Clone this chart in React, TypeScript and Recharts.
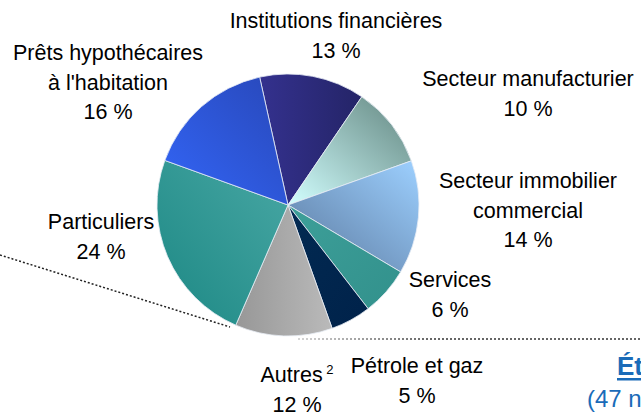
import { PieChart, Pie, Cell } from 'recharts'

// répartition du portefeuille de prêts (%), sens horaire depuis le haut
const sectors = [
  'Institutions financières',
  'Secteur manufacturier',
  'Secteur immobilier commercial',
  'Services',
  'Pétrole et gaz',
  'Autres',
  'Particuliers',
  "Prêts hypothécaires à l'habitation",
]
const shares = [13, 10, 14, 6, 5, 12, 24, 16]
const labelLines = [
  ['Institutions financières'],
  ['Secteur manufacturier'],
  ['Secteur immobilier', 'commercial'],
  ['Services'],
  ['Pétrole et gaz'],
  ['Autres'],
  ['Particuliers'],
  ['Prêts hypothécaires', "à l'habitation"],
]
const notes = ['', '', '', '', '', '2', '', '']

const data = sectors.map((name, i) => ({ name, value: shares[i] }))

// dégradés des tranches: [x1, y1, x2, y2, couleur début, couleur fin]
const gradients: [number, number, number, number, string, string][] = [
  [0, 0.5, 1, 0.5, '#34318e', '#242467'],
  [0, 1, 1, 0, '#d2ffff', '#62857f'],
  [1, 0, 0, 1, '#9dd0ff', '#5a789e'],
  [0, 0, 1, 1, '#3d9f99', '#32918c'],
  [0, 0, 1, 1, '#022a52', '#00224a'],
  [0, 0.5, 1, 0.5, '#979797', '#bababa'],
  [1, 0, 0, 1, '#48a7a4', '#1c8884'],
  [0, 1, 1, 0, '#3366f8', '#2847b8'],
]

// position des étiquettes (centre, ligne de base de la 1re ligne)
const labelPos = [
  { x: 336, y: 28 },
  { x: 528, y: 86 },
  { x: 528, y: 188 },
  { x: 450, y: 287 },
  { x: 417, y: 373 },
  { x: 297, y: 382 },
  { x: 101, y: 229 },
  { x: 108, y: 60 },
]

const font = '"Liberation Sans", Arial, sans-serif'
const lineH = 29.5

function renderLabel(props: any) {
  const i = sectors.indexOf(props.name)
  if (i < 0) return null
  const p = labelPos[i]
  const lines = labelLines[i]
  return (
    <text key={i} x={p.x} y={p.y} textAnchor="middle" fontFamily={font} fontSize={21.5} fill="#000">
      {lines.map((l, k) => (
        <tspan key={k} x={p.x} dy={k === 0 ? 0 : lineH}>
          {l}
          {k === lines.length - 1 && notes[i] ? (
            <tspan fontSize={13} dy={-8}>{' ' + notes[i]}</tspan>
          ) : null}
        </tspan>
      ))}
      <tspan x={p.x} y={p.y + lines.length * lineH}>{shares[i]} %</tspan>
    </text>
  )
}

export default function App() {
  return (
    <div style={{ position: 'fixed', left: 0, top: 0, width: 641, height: 413, background: '#fff', overflow: 'hidden' }}>
      <svg width={641} height={413} style={{ position: 'absolute', left: 0, top: 0 }}>
        <defs>
          <linearGradient id="fade" gradientUnits="userSpaceOnUse" x1={298} y1={0} x2={430} y2={0}>
            <stop offset="0" stopColor="#c8c8c8" />
            <stop offset="1" stopColor="#333" />
          </linearGradient>
        </defs>
        <line x1={0} y1={255} x2={230} y2={327} stroke="#222" strokeWidth={1.5} strokeDasharray="2 2" />
        <line x1={298} y1={339} x2={641} y2={339} stroke="url(#fade)" strokeWidth={1.5} strokeDasharray="2 2" />
        <text x={617} y={375} fontFamily={font} fontSize={26} fontWeight="bold" fill="#1a6bb8">Ét</text>
        <rect x={617} y={378} width={30} height={2.5} fill="#1a6bb8" />
        <text x={587} y={407} fontFamily={font} fontSize={24} fill="#1a6bb8">(47 n</text>
      </svg>
      <div style={{ position: 'absolute', left: 0, top: 0 }}>
        <PieChart width={641} height={413} margin={{ top: 0, right: 0, bottom: 0, left: 0 }}>
          <defs>
            {gradients.map((g, i) => (
              <linearGradient key={i} id={`g${i}`} x1={g[0]} y1={g[1]} x2={g[2]} y2={g[3]}>
                <stop offset="0" stopColor={g[4]} />
                <stop offset="1" stopColor={g[5]} />
              </linearGradient>
            ))}
          </defs>
          <Pie
            data={data}
            dataKey="value"
            nameKey="name"
            cx={288}
            cy={205}
            outerRadius={131}
            startAngle={102.5}
            endAngle={-257.5}
            stroke="#e8eef5"
            strokeWidth={0.8}
            label={renderLabel}
            labelLine={false}
            isAnimationActive={false}
          >
            {data.map((d, i) => <Cell key={d.name} fill={`url(#g${i})`} />)}
          </Pie>
        </PieChart>
      </div>
    </div>
  )
}
